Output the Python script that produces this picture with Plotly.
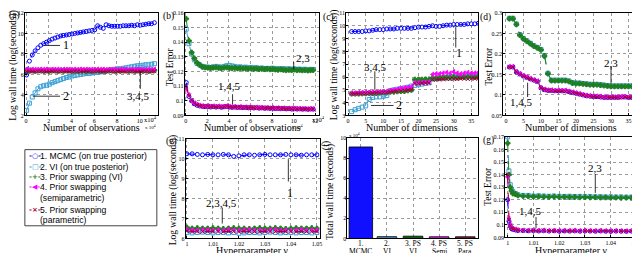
import plotly.graph_objects as go

W, H = 640, 253
def px(x): return x / W
def py(y): return 1 - y / H

# ---------------- data ----------------
series_names = ["1. MCMC (on true posterior)", "2. VI (on true posterior)",
                "3. Prior swapping (VI)", "4. Prior swapping (semiparametric)",
                "5. Prior swapping (parametric)"]

# (a) log wall time vs number of observations (x in 1e4)
a_x = [0.05,0.3,0.55,0.8,1.05,1.3,1.55,1.8,2.05,2.3,2.55,2.8,3.05,3.3,3.55,3.8,4.05,4.3,4.55,4.8,
       5.05,5.3,5.55,5.8,6.05,6.3,6.55,6.8,7.05,7.3,7.55,7.8,8.05,8.3,8.55,8.8,9.05,9.3,9.55,9.8,
       10.05,10.3,10.55,10.8,11.05,11.3]
a_mcmc = [5.95,7.3,7.9,8.3,8.6,8.85,9.0,9.15,9.3,9.45,9.55,9.65,9.75,9.8,9.85,9.9,9.95,10.0,10.05,10.1,
          10.15,10.2,10.25,10.3,10.35,10.75,10.6,10.5,10.85,10.75,10.7,10.7,10.7,10.7,10.75,10.75,10.75,10.8,10.75,10.85,
          10.8,10.85,10.9,10.95,10.95,11.05]
a_vi = [2.5,3.2,3.8,4.2,4.6,4.8,4.9,4.95,5.05,5.2,5.3,5.4,5.5,5.6,5.7,5.75,5.85,5.9,5.95,6.0,
        6.05,6.1,6.1,6.15,6.2,6.2,6.25,6.3,6.35,6.4,6.45,6.5,6.55,6.55,6.6,6.65,6.7,6.75,6.8,6.85,
        6.85,6.9,6.95,6.95,7.0,7.05]
a_psvi = [6.42,6.36,6.4,6.36,6.4,6.4,6.36,6.4,6.36,6.4,6.4,6.36,6.4,6.36,6.4,6.4,6.36,6.4,6.36,6.4,
          6.4,6.36,6.4,6.36,6.4,6.4,6.36,6.4,6.36,6.4,6.4,6.36,6.4,6.36,6.4,6.4,6.36,6.4,6.36,6.4,
          6.4,6.36,6.4,6.36,6.4,6.4]
a_semi = [6.5,6.46,6.5,6.48,6.46,6.5,6.48,6.5,6.46,6.5,6.48,6.5,6.46,6.5,6.48,6.5,6.46,6.5,6.48,6.5,
          6.46,6.5,6.48,6.5,6.46,6.5,6.48,6.5,6.46,6.5,6.48,6.5,6.46,6.5,6.48,6.5,6.46,6.5,6.48,6.5,
          6.46,6.5,6.48,6.5,6.46,6.5]
a_para = [6.3,6.32,6.3,6.28,6.3,6.32,6.3,6.28,6.3,6.32,6.3,6.28,6.3,6.32,6.3,6.28,6.3,6.32,6.3,6.28,
          6.3,6.32,6.3,6.28,6.3,6.32,6.3,6.28,6.3,6.32,6.3,6.28,6.3,6.32,6.3,6.28,6.3,6.32,6.3,6.28,
          6.3,6.32,6.3,6.28,6.3,6.32]

# (b) test error vs number of observations (x in 1e4)
b_x = [0.05,0.3,0.55,0.8,1.05,1.3,1.55,1.8,2.05,2.3,2.55,2.8,3.05,3.3,3.55,3.8,4.05,4.3,4.55,4.8,
       5.05,5.3,5.55,5.8,6.05,6.3,6.55,6.8,7.05,7.3,7.55,7.8,8.05,8.3,8.55,8.8,9.05,9.3,9.55,9.8,
       10.05,10.3,10.55,10.8,11.05,11.3,11.55,11.8]
b_vi = [0.149,0.139,0.132,0.128,0.1255,0.1245,0.1235,0.123,0.123,0.1228,
        0.1232,0.1235,0.1232,0.123,0.1235,0.124,0.1242,0.1238,0.1235,0.123,
        0.1232,0.1228,0.123,0.1226,0.1228,0.1225,0.1226,0.1222,0.1224,0.122,
        0.1222,0.1221,0.1223,0.1219,0.122,0.1218,0.122,0.1217,0.1219,0.1216,
        0.1218,0.1215,0.1217,0.1214,0.1216,0.1213,0.1215,0.1214]
b_psvi = [0.156,0.141,0.133,0.129,0.126,0.1245,0.1232,0.1228,0.1226,0.1224,
          0.1226,0.1228,0.1225,0.1222,0.1226,0.1228,0.1224,0.1222,0.1225,0.1221,
          0.1223,0.122,0.1222,0.1219,0.1221,0.1218,0.122,0.1217,0.1219,0.1216,
          0.1218,0.1215,0.1217,0.1214,0.1212,0.1215,0.1212,0.1209,0.1212,0.121,
          0.1213,0.1209,0.1211,0.1208,0.121,0.1207,0.1209,0.121]
b_mcmc = [0.1125,0.103,0.1,0.098,0.097,0.0965,0.0962,0.096,0.0962,0.0958,
          0.0961,0.0957,0.096,0.0956,0.0959,0.0962,0.0958,0.0955,0.0958,0.0954,
          0.0956,0.0953,0.0955,0.0952,0.0954,0.0951,0.0953,0.095,0.0952,0.0949,
          0.0951,0.0948,0.095,0.0947,0.0949,0.0946,0.0948,0.0945,0.0947,0.0944,
          0.0946,0.0944,0.0945,0.0943,0.0945,0.0942,0.0944,0.0943]
b_semi = [0.108,0.104,0.1,0.0985,0.0975,0.0968,0.0965,0.0963,0.0966,0.0961,
          0.0964,0.096,0.0963,0.0959,0.0962,0.0965,0.096,0.0957,0.096,0.0956,
          0.0959,0.0955,0.0957,0.0954,0.0956,0.0953,0.0955,0.0952,0.0954,0.0951,
          0.0953,0.095,0.0952,0.0949,0.0951,0.0948,0.095,0.0947,0.0949,0.0946,
          0.0948,0.0945,0.0947,0.0945,0.0946,0.0944,0.0946,0.0945]
b_para = [0.11,0.1035,0.1005,0.0982,0.0972,0.0966,0.0963,0.0961,0.0963,0.0959,
          0.0962,0.0958,0.0961,0.0957,0.096,0.0963,0.0959,0.0956,0.0959,0.0955,
          0.0957,0.0954,0.0956,0.0953,0.0955,0.0952,0.0954,0.0951,0.0953,0.095,
          0.0952,0.0949,0.0951,0.0948,0.095,0.0947,0.0949,0.0946,0.0948,0.0945,
          0.0947,0.0944,0.0946,0.0944,0.0945,0.0943,0.0945,0.0944]

# (c) log wall time vs number of dimensions
c_x = [1,2,3,4,5,6,7,8,9,10,11,12,13,14,15,16,17,18,19,20,21,22,23,24,25,26,27,28,29,30,31,32,33,34,35,36,37]
c_mcmc = [9.55,9.55,9.55,9.55,9.6,9.6,9.65,9.7,9.7,9.7,9.75,9.75,9.75,9.8,9.8,9.8,9.8,9.8,9.85,9.9,
          9.9,9.9,9.95,10.0,9.95,9.95,10.0,10.05,10.05,10.1,10.1,10.1,10.1,10.15,10.15,10.15,10.2]
c_vi = [3.3,3.45,3.55,3.65,3.75,4.25,4.4,4.45,4.45,4.5,4.55,4.95,5.0,5.05,5.1,5.15,5.2,5.3,5.35,5.4,
        5.45,5.5,5.55,5.85,5.9,5.95,5.95,6.0,6.0,6.05,6.0,6.05,6.05,6.1,6.05,6.1,6.1]
c_psvi = [4.7,4.7,4.7,4.72,4.72,4.75,4.75,4.75,4.78,4.8,4.8,4.85,4.85,4.88,4.9,4.9,4.95,5.0,5.8,5.8,
          5.8,5.82,5.82,5.9,5.9,5.92,5.95,5.95,5.95,5.98,5.95,6.0,6.0,6.0,6.02,6.0,6.02]
c_semi = [4.75,4.75,4.78,4.78,4.8,4.8,4.82,4.82,4.85,4.85,4.88,4.95,5.0,5.05,5.1,5.15,5.2,5.25,5.55,5.55,
          5.58,5.6,5.6,6.2,6.25,6.25,6.3,6.35,6.3,6.4,6.3,6.25,6.3,6.35,6.3,6.3,6.35]
c_para = [4.7,4.7,4.72,4.72,4.72,4.75,4.75,4.78,4.78,4.8,4.8,4.85,4.88,4.9,4.92,4.95,4.98,5.0,5.5,5.5,
          5.52,5.52,5.55,5.8,5.8,5.82,5.82,5.85,5.85,5.85,5.85,5.88,5.88,5.85,5.88,5.88,5.9]

# (d) test error vs number of dimensions
d_x = c_x
d_vi = [0.287,0.287,0.273,0.247,0.238,0.232,0.226,0.22,0.216,0.211,0.196,0.153,0.136,0.136,0.136,0.136,0.136,0.134,0.13,0.129,
        0.129,0.128,0.127,0.126,0.126,0.126,0.125,0.124,0.123,0.122,0.122,0.122,0.122,0.122,0.122,0.122,0.122]
d_psvi = [0.286,0.286,0.272,0.246,0.237,0.231,0.225,0.219,0.215,0.21,0.195,0.152,0.135,0.135,0.135,0.135,0.135,0.133,0.129,0.128,
          0.128,0.127,0.126,0.125,0.125,0.125,0.124,0.123,0.122,0.121,0.121,0.121,0.121,0.121,0.121,0.121,0.121]
d_mcmc = [0.168,0.168,0.156,0.151,0.146,0.143,0.139,0.136,0.133,0.117,0.113,0.111,0.111,0.11,0.11,0.11,0.11,0.108,0.106,0.104,
          0.102,0.1,0.098,0.097,0.096,0.096,0.095,0.094,0.094,0.094,0.094,0.094,0.095,0.095,0.094,0.094,0.095]
d_semi = [0.169,0.169,0.157,0.152,0.147,0.144,0.14,0.137,0.134,0.118,0.114,0.112,0.112,0.111,0.111,0.111,0.111,0.109,0.107,0.105,
          0.103,0.101,0.099,0.098,0.097,0.097,0.096,0.095,0.095,0.095,0.095,0.095,0.096,0.096,0.095,0.095,0.096]
d_para = [0.168,0.168,0.156,0.15,0.146,0.142,0.139,0.136,0.132,0.117,0.113,0.111,0.11,0.11,0.11,0.11,0.109,0.108,0.106,0.104,
          0.102,0.1,0.098,0.097,0.096,0.095,0.095,0.094,0.094,0.094,0.094,0.094,0.094,0.095,0.094,0.094,0.094]

# (e) log wall time vs hyperparameter gamma
e_x = [1.0,1.002,1.004,1.006,1.008,1.01,1.012,1.014,1.016,1.018,1.02,1.022,1.024,1.026,1.028,1.03,
       1.032,1.034,1.036,1.038,1.04,1.042,1.044,1.046,1.048,1.05]
e_mcmc = [10.25,10.25,10.22,10.2,10.22,10.2,10.2,10.22,10.2,10.12,10.15,10.2,10.2,10.18,10.2,10.22,
          10.2,10.2,10.2,10.22,10.2,10.2,10.18,10.2,10.2,10.2]
e_vi = [6.3,6.28,6.3,6.32,6.3,6.28,6.3,6.3,6.28,6.3,6.26,6.28,6.3,6.3,6.28,6.3,
        6.32,6.3,6.28,6.3,6.3,6.28,6.3,6.3,6.28,6.3]
e_psvi = [6.55,6.5,6.52,6.5,6.5,6.52,6.5,6.48,6.5,6.52,6.5,6.5,6.48,6.5,6.52,6.5,
          6.5,6.52,6.5,6.48,6.5,6.52,6.5,6.5,6.52,6.5]
e_semi = [6.45,6.42,6.4,6.42,6.44,6.4,6.42,6.4,6.44,6.42,6.4,6.42,6.44,6.4,6.42,6.4,
          6.42,6.44,6.4,6.42,6.4,6.42,6.44,6.4,6.42,6.42]
e_para = [6.38,6.35,6.36,6.34,6.35,6.36,6.35,6.34,6.36,6.35,6.34,6.36,6.35,6.35,6.34,6.36,
          6.35,6.34,6.36,6.35,6.35,6.34,6.36,6.35,6.34,6.35]

# (f) total wall time (seconds)
f_cats = ["1. MCMC", "2. VI", "3. PS VI", "4. PS Semi", "5. PS Para"]
f_line1 = ["1.", "2.", "3. PS", "4. PS", "5. PS"]
f_line2 = ["MCMC", "VI", "VI", "Semi", "Para"]
f_vals = [91000, 1800, 2300, 1700, 1700]
f_ticks = [0, 20000, 40000, 60000, 80000, 100000]
f_ticktext = ["0", "2", "4", "6", "8", "10"]

# (g) test error vs hyperparameter gamma
g_x = [1.0,1.0005,1.001,1.0015,1.002,1.003,1.004,1.006,1.008,1.01,1.012,1.014,1.016,1.018,1.02,
       1.022,1.024,1.026,1.028,1.03,1.032,1.034,1.036,1.038,1.04,1.042,1.044,1.046,1.048,1.05]
g_vi = [0.17,0.143,0.132,0.128,0.1265,0.125,0.124,0.1235,0.1235,0.123,0.1232,0.123,0.1228,0.123,0.1228,
        0.1227,0.1228,0.1226,0.1227,0.1225,0.1226,0.1224,0.1225,0.1223,0.1224,0.1222,0.1223,0.1221,0.1222,0.1222]
g_psvi = [0.165,0.14,0.13,0.127,0.125,0.1245,0.1235,0.123,0.1228,0.1225,0.1226,0.1224,0.1223,0.1225,0.1222,
          0.1223,0.1221,0.1222,0.122,0.1221,0.1219,0.122,0.1218,0.1219,0.1217,0.1218,0.1216,0.1217,0.1216,0.1215]
g_mcmc = [0.12,0.103,0.099,0.097,0.0965,0.096,0.0955,0.0955,0.0953,0.0955,0.0952,0.0954,0.0951,0.0953,0.095,
          0.0952,0.0951,0.0953,0.095,0.0952,0.0951,0.095,0.0952,0.095,0.0949,0.0951,0.095,0.0949,0.0951,0.095]
g_semi = [0.138,0.105,0.1,0.098,0.097,0.0965,0.096,0.0958,0.0956,0.0958,0.0955,0.0957,0.0954,0.0956,0.0953,
          0.0955,0.0954,0.0956,0.0953,0.0955,0.0954,0.0953,0.0955,0.0953,0.0952,0.0954,0.0953,0.0952,0.0954,0.0953]
g_para = [0.14,0.104,0.0995,0.0975,0.0968,0.0962,0.0958,0.0956,0.0954,0.0956,0.0953,0.0955,0.0952,0.0954,0.0951,
          0.0953,0.0952,0.0954,0.0951,0.0953,0.0952,0.0951,0.0953,0.0951,0.095,0.0952,0.0951,0.095,0.0952,0.0951]

# ---------------- styles ----------------
COLORS = ["#0000ff", "#3a9fd6", "#1f7f1f", "#ff00ff", "#a0003c"]
SYMBOLS = ["circle-open", "square-open", "cross", "triangle-left", "x-thin-open"]
BAR_COLORS = ["#1010ff", "#3f8fc8", "#0b5e0b", "#e81ee8", "#8e1640"]
BAR_WIDTHS = [0.9, 0.75, 0.75, 0.75, 0.75]
SERIF = "Liberation Serif"
SANS = "Liberation Sans"

fig = go.Figure()

def add_series(xs, ys, k, n):
    xa = "x" if n == 1 else f"x{n}"
    ya = "y" if n == 1 else f"y{n}"
    fig.add_trace(go.Scatter(
        x=xs, y=ys, xaxis=xa, yaxis=ya, mode="lines+markers", name=series_names[k],
        line=dict(color=COLORS[k], width=1, dash="dash"),
        marker=dict(symbol=SYMBOLS[k], size=4, color=COLORS[k],
                    line=dict(color=COLORS[k], width=1)),
        showlegend=False))

for n, xs, ys_list in [
    (1, a_x, [a_mcmc, a_vi, a_psvi, a_semi, a_para]),
    (2, b_x, [b_mcmc, b_vi, b_psvi, b_semi, b_para]),
    (3, c_x, [c_mcmc, c_vi, c_psvi, c_semi, c_para]),
    (4, d_x, [d_mcmc, d_vi, d_psvi, d_semi, d_para]),
    (5, e_x, [e_mcmc, e_vi, e_psvi, e_semi, e_para]),
    (7, g_x, [g_mcmc, g_vi, g_psvi, g_semi, g_para]),
]:
    for k, ys in enumerate(ys_list):
        add_series(xs, ys, k, n)

fig.add_trace(go.Bar(x=f_cats, y=f_vals, xaxis="x6", yaxis="y6", width=BAR_WIDTHS,
                     marker=dict(color=BAR_COLORS, line=dict(color="black", width=0.8)),
                     showlegend=False))

# ---------------- axes ----------------
TICK = dict(family=SERIF, size=6, color="black")
base = dict(showline=True, mirror=True, linecolor="black", linewidth=1,
            showgrid=True, gridcolor="#9a9a9a", griddash="dot", gridwidth=0.8,
            ticks="inside", ticklen=2, tickcolor="black", zeroline=False,
            tickfont=TICK)

# panel: (x0, x1, y0top, y1bottom) in pixels, xrange, yrange, xdtick, ydtick
panels = {
    1: ((17, 151, 2, 107), [-0.1, 11.6], [2, 12], 2, 2),
    2: ((178, 313, 2, 107), [-0.1, 12.3], [0.09, 0.16], 2, 0.01),
    3: ((341, 474, 2, 107), [-0.5, 37.0], [3, 11], 5, 1),
    4: ((499, 636, 2, 107), [-0.8, 38.0], [0.05, 0.3], 5, 0.05),
    5: ((179, 314, 131, 233), [0.9995, 1.051], [6, 11], 0.01, 1),
    7: ((501, 634, 129, 232), [0.999, 1.0502], [0.09, 0.17], 0.01, 0.01),
}
layout_axes = {}
for n, (box, xr, yr, xd, yd) in panels.items():
    x0, x1, yt, yb = box
    sx = "" if n == 1 else str(n)
    layout_axes[f"xaxis{sx}"] = dict(base, domain=[px(x0), px(x1)], range=xr, dtick=xd,
                                      anchor=f"y{sx}", ticklabelstandoff=-1)
    layout_axes[f"yaxis{sx}"] = dict(base, domain=[py(yb), py(yt)], range=yr, dtick=yd,
                                      anchor=f"x{sx}", ticklabelstandoff=-1)
# bar panel (f)
layout_axes["xaxis6"] = dict(base, domain=[px(342), px(474)], anchor="y6", ticks="",
                             showticklabels=False)
layout_axes["yaxis6"] = dict(base, domain=[py(233), py(130)], anchor="x6", range=[0, 100000],
                             tickvals=f_ticks, ticktext=f_ticktext, ticklabelstandoff=-1)

fig.update_layout(width=W, height=H, margin=dict(l=0, r=0, t=0, b=0),
                  paper_bgcolor="white", plot_bgcolor="white", showlegend=False,
                  **layout_axes)

# ---------------- text ----------------
ann = []
def ptxt(x, y, s, size=10, family=SERIF, angle=0, xanchor="center", yanchor="middle", color="black"):
    ann.append(dict(xref="paper", yref="paper", x=px(x), y=py(y), text=s, showarrow=False,
                    font=dict(family=family, size=size, color=color), textangle=angle,
                    xanchor=xanchor, yanchor=yanchor))

def dtxt(n, x, y, s, size=11):
    sx = "" if n == 1 else str(n)
    ann.append(dict(xref=f"x{sx}", yref=f"y{sx}", x=x, y=y, text=s, showarrow=False,
                    font=dict(family=SERIF, size=size, color="black"),
                    xanchor="center", yanchor="middle"))

shapes = []
def dline(n, x0, y0, x1, y1):
    sx = "" if n == 1 else str(n)
    shapes.append(dict(type="line", xref=f"x{sx}", yref=f"y{sx}", x0=x0, y0=y0, x1=x1, y1=y1,
                       line=dict(color="black", width=0.8)))

# category labels of the bar panel (two lines, below the axis)
for cat, l1, l2 in zip(f_cats, f_line1, f_line2):
    for yy, s in [(238, l1), (246.5, l2)]:
        ann.append(dict(xref="x6", yref="paper", x=cat, y=py(yy), text=s, showarrow=False,
                        font=dict(family=SERIF, size=7.5, color="black"),
                        xanchor="center", yanchor="middle"))

# axis titles
XT, YT = 10, 9.5
ptxt(84, 119, "Number of observations", XT)
ptxt(6, 55, "Log wall time (log(seconds))", YT, angle=-90)
ptxt(246, 119, "Number of observations", XT)
ptxt(163, 57, "Test Error", YT, angle=-90)
ptxt(407, 119, "Number of dimensions", XT)
ptxt(329, 55, "Log wall time (log(seconds))", YT, angle=-90)
ptxt(567, 119, "Number of dimensions", XT)
ptxt(484, 57, "Test Error", YT, angle=-90)
ptxt(246, 245, "Hyperparameter γ", XT)
ptxt(167, 183, "Log wall time (log(seconds))", YT, angle=-90)
ptxt(325, 185, "Total wall time (seconds)", YT, angle=-90)
ptxt(567, 245, "Hyperparameter γ", XT)
ptxt(484, 180, "Test Error", YT, angle=-90)

# panel letters
ptxt(7, 5, "(a)", 9.5)
ptxt(162, 6, "(b)", 9.5)
ptxt(323, 7, "(c)", 9.5)
ptxt(481, 7, "(d)", 9.5)
ptxt(165, 134, "(e)", 9.5)
ptxt(321, 137, "(f)", 9.5, angle=-90)
ptxt(484, 133, "(g)", 9.5)

# exponent labels
ptxt(144, 111, "x10<sup>4</sup>", 6.5)
ptxt(144, 119, "x 10<sup>4</sup>", 5)
ptxt(313, 111, "x10<sup>4</sup>", 6.5)
ptxt(292, 119, "x 10<sup>4</sup>", 5)
ptxt(349, 127, "x 10<sup>4</sup>", 5)

# series call-outs
dtxt(1, 3.5, 8.85, "1", 12)
dline(1, 1.6, 8.83, 3.0, 8.83)
dtxt(1, 3.5, 3.88, "2", 12)
dline(1, 0.6, 3.88, 3.0, 3.88)
dtxt(1, 9.9, 3.88, "3,4,5", 11)
dline(1, 10.06, 6.3, 10.06, 4.6)

dtxt(2, 10.9, 0.1293, "2,3", 11)
dline(2, 10.0, 0.1265, 10.0, 0.1215)
dtxt(2, 4.06, 0.110, "1,4,5", 11)
dline(2, 4.34, 0.1045, 4.34, 0.0975)

dtxt(3, 31.5, 7.9, "1", 12)
dline(3, 30.6, 9.95, 30.6, 8.3)
dtxt(3, 7.9, 6.8, "3,4,5", 11)
dline(3, 7.6, 6.45, 7.6, 5.0)
dtxt(3, 14.4, 3.78, "2", 12)
dline(3, 6.5, 3.78, 12.9, 3.78)

dtxt(4, 30.0, 0.179, "2,3", 11)
dline(4, 30.0, 0.169, 30.0, 0.128)
dtxt(4, 4.5, 0.083, "1,4,5", 11)
dline(4, 6.2, 0.095, 6.2, 0.130)

dtxt(5, 1.0395, 8.28, "1", 12)
dline(5, 1.039, 9.98, 1.039, 8.86)
dtxt(5, 1.0132, 7.8, "2,3,4,5", 11)
dline(5, 1.0136, 7.55, 1.0136, 6.75)

dtxt(7, 1.034, 0.1451, "2,3", 11)
dline(7, 1.034, 0.1405, 1.034, 0.1255)
dtxt(7, 1.0087, 0.111, "1,4,5", 11)
dline(7, 1.011, 0.1063, 1.011, 0.0975)

# legend box with key rows
shapes.append(dict(type="rect", xref="paper", yref="paper", x0=px(17), x1=px(150),
                   y0=py(220), y1=py(142), line=dict(color="#444444", width=1),
                   fillcolor="white", layer="below"))
glyphs = ["-○-", "-□-", "-+-", "-◀-", "-×-"]
rows = [(149, 0, "1. MCMC (on true posterior)"),
        (159.5, 1, "2. VI (on true posterior)"),
        (170, 2, "3. Prior swapping (VI)"),
        (180.5, 3, "4. Prior swapping"),
        (191.5, None, "(semiparametric)"),
        (204, 4, "5. Prior swapping"),
        (214, None, "(parametric)")]
for y, k, s in rows:
    if k is not None:
        ptxt(19, y, f"<b>{glyphs[k]}</b>", 7, family="DejaVu Sans", xanchor="left",
             color=COLORS[k])
    ptxt(30, y, s, 8.6, family=SANS, xanchor="left")

fig.update_layout(annotations=ann, shapes=shapes)
fig.write_html("out.html")
